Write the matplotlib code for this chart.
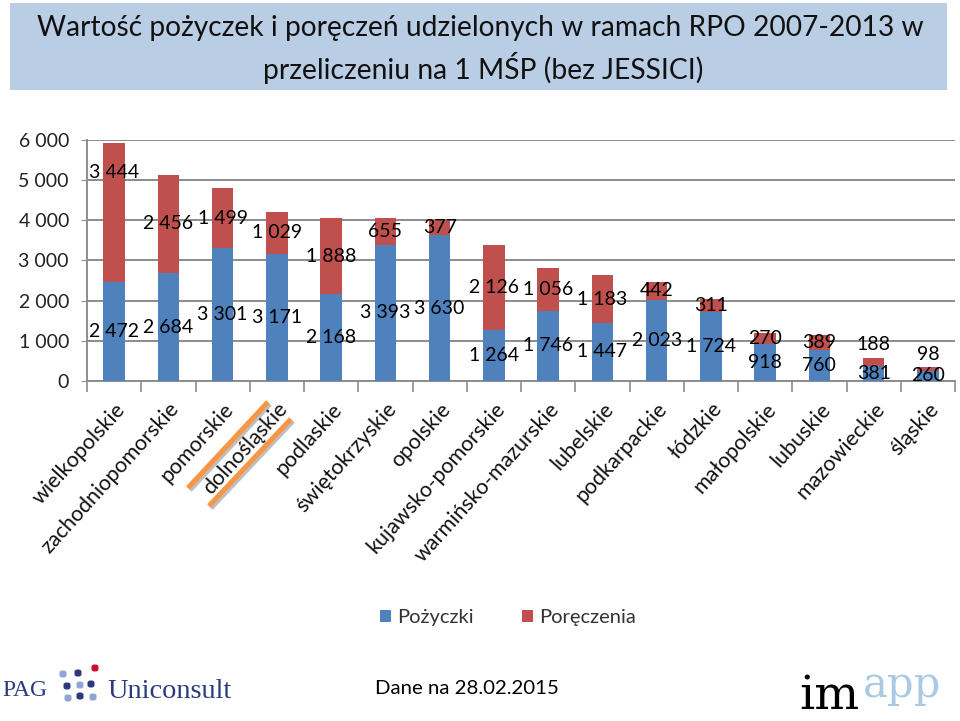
import matplotlib
matplotlib.use('Agg')
import matplotlib.pyplot as plt
from matplotlib.patches import Rectangle, FancyBboxPatch
from matplotlib.ticker import FuncFormatter, FixedLocator
import matplotlib.patheffects as pe

plt.rcParams['font.family'] = ['Lato', 'DejaVu Sans']

regions = ['wielkopolskie', 'zachodniopomorskie', 'pomorskie', 'dolnośląskie',
           'podlaskie', 'świętokrzyskie', 'opolskie', 'kujawsko-pomorskie',
           'warmińsko-mazurskie', 'lubelskie', 'podkarpackie', 'łódzkie',
           'małopolskie', 'lubuskie', 'mazowieckie', 'śląskie']
pozyczki = [2472, 2684, 3301, 3171, 2168, 3393, 3630, 1264, 1746, 1447, 2023, 1724, 918, 760, 381, 260]
poreczenia = [3444, 2456, 1499, 1029, 1888, 655, 377, 2126, 1056, 1183, 442, 311, 270, 389, 188, 98]

BLUE = '#4F81BD'
RED = '#C0504D'
GRID = '#8C8C8C'

W, H = 960, 721
fig = plt.figure(figsize=(W / 100, H / 100), dpi=100)


def px(x, y):
    # pixel position (from top-left) -> figure fraction
    return x / W, 1 - y / H


def fit(t, width):
    r = fig.canvas.get_renderer()
    w = t.get_window_extent(r).width
    t.set_fontsize(t.get_fontsize() * width / w)


def fmt(v):
    return f'{int(v):,}'.replace(',', ' ')


# title box
x0, y0 = px(10, 90)
fig.add_artist(Rectangle((x0, y0), 937 / W, 87 / H, transform=fig.transFigure,
                         facecolor='#B9CDE5', edgecolor='none', zorder=0))
t1 = fig.text(*px(480, 28), 'Wartość pożyczek i poręczeń udzielonych w ramach RPO 2007-2013 w',
              ha='center', va='center', fontsize=20, color='#111111')
t2 = fig.text(*px(483, 68), 'przeliczeniu na 1 MŚP (bez JESSICI)',
              ha='center', va='center', fontsize=20, color='#111111')
fit(t1, 884)
fit(t2, 440)

# chart
ax = fig.add_axes([87 / W, 1 - 381 / H, 868 / W, 241 / H])
x = range(len(regions))
ax.bar(x, pozyczki, width=0.4, color=BLUE, zorder=3, label='Pożyczki')
ax.bar(x, poreczenia, width=0.4, bottom=pozyczki, color=RED, zorder=3, label='Poręczenia')

ax.set_xlim(-0.5, len(regions) - 0.5)
ax.set_ylim(0, 6000)
ax.set_yticks(range(0, 6001, 1000))
ax.yaxis.set_major_formatter(FuncFormatter(lambda v, p: fmt(v)))
ax.yaxis.grid(True, color=GRID, linewidth=1.4, zorder=0)
ax.set_axisbelow(True)
for s in ['top', 'right']:
    ax.spines[s].set_visible(False)
for s in ['left', 'bottom']:
    ax.spines[s].set_color(GRID)
    ax.spines[s].set_linewidth(1.4)
ax.tick_params(axis='y', length=4, color=GRID, labelsize=14, pad=9, labelcolor='#222222')

ax.set_xticks(list(x))
ax.set_xticklabels(regions, rotation=48, ha='right', va='top', rotation_mode='anchor',
                   fontsize=15.5, color='#111111')
ax.tick_params(axis='x', which='major', length=0, pad=13)
ax.xaxis.set_minor_locator(FixedLocator([i - 0.5 for i in range(len(regions) + 1)]))
ax.tick_params(axis='x', which='minor', length=8, color=GRID, width=1.2)

# data labels (centered in segments, a few moved by hand in the original)
red_label_y = {0: 5180, 14: 920, 15: 650}
for i in x:
    ax.text(i, pozyczki[i] / 2, fmt(pozyczki[i]), ha='center', va='center',
            fontsize=14, color='black', zorder=5)
    yy = red_label_y.get(i, pozyczki[i] + poreczenia[i] / 2)
    ax.text(i, yy, fmt(poreczenia[i]), ha='center', va='center',
            fontsize=14, color='black', zorder=5)

# orange highlight around dolnośląskie
k = regions.index('dolnośląskie')
fig.canvas.draw()
bx, by = ax.transData.transform((k, 0))
by = H - by
for (ax0, ay0, ax1, ay1) in [(-89, 107, -9, 21), (-68, 125, 14, 38)]:
    p0 = px(bx + ax0, by + ay0)
    p1 = px(bx + ax1, by + ay1)
    fig.add_artist(plt.Line2D([p0[0], p1[0]], [p0[1], p1[1]], transform=fig.transFigure,
                              color='#F79646', linewidth=3.6, solid_capstyle='butt',
                              path_effects=[pe.SimpleLineShadow(offset=(1.5, -1.5), alpha=0.25),
                                            pe.Normal()]))

# legend
leg = ax.legend(loc='center', bbox_to_anchor=px(508, 618), bbox_transform=fig.transFigure,
                ncol=2, frameon=False, fontsize=14.5, handlelength=0.55, handleheight=0.55,
                handletextpad=0.3, columnspacing=2.4)
for t in leg.get_texts():
    t.set_color('#333333')

# footer
td = fig.text(*px(467, 688), 'Dane na 28.02.2015', ha='center', va='center',
              fontsize=14, color='black')
fit(td, 185)

NAVY = '#2B3A7E'
fig.text(*px(2, 691), 'PAG', ha='left', va='center', fontsize=17,
         family=['Liberation Serif', 'DejaVu Serif'], color=NAVY)
tu = fig.text(*px(107, 691), 'Uniconsult', ha='left', va='center', fontsize=19,
              family=['Liberation Serif', 'DejaVu Serif'], color=NAVY)
fit(tu, 125)
LIGHT = '#8DA6D6'
dots = [(63, 674, LIGHT), (78, 673, NAVY), (95, 668, '#C8102E'),
        (67, 686, NAVY), (80, 685, LIGHT), (91, 684, NAVY),
        (68, 698, LIGHT), (80, 696, NAVY), (93, 697, LIGHT)]
for dx, dy, c in dots:
    p = px(dx - 3.5, dy + 3.5)
    fig.add_artist(FancyBboxPatch(p, 7 / W, 7 / H, boxstyle='round,pad=0,rounding_size=0.003',
                                  transform=fig.transFigure, facecolor=c, edgecolor='none'))

fig.text(*px(799, 709), 'im', ha='left', va='baseline', fontsize=34,
         family=['DejaVu Serif'], color='black')
fig.text(*px(863, 697), 'app', ha='left', va='baseline', fontsize=30,
         family=['DejaVu Serif'], color='#A9C9E4')

fig.savefig('out.png', dpi=100)
